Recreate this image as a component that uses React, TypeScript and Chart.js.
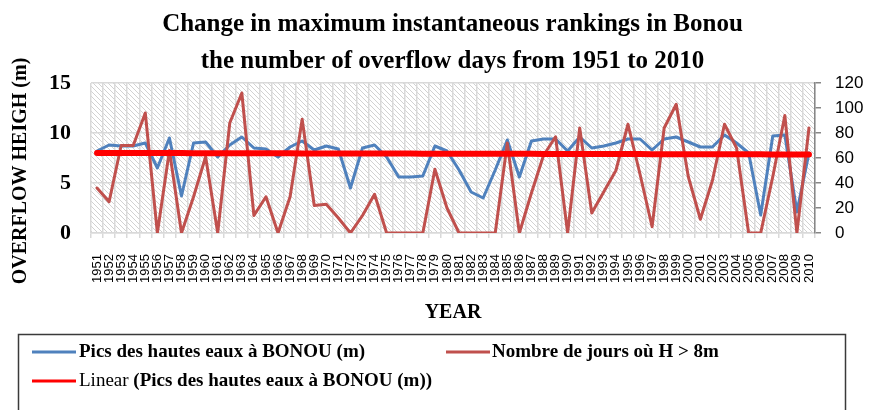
import React, { useEffect, useRef } from "react";
import { Chart, registerables } from "chart.js";

Chart.register(...registerables);

const years = [
  "1951", "1952", "1953", "1954", "1955", "1956", "1957", "1958", "1959", "1960",
  "1961", "1962", "1963", "1964", "1965", "1966", "1967", "1968", "1969", "1970",
  "1971", "1972", "1973", "1974", "1975", "1976", "1977", "1978", "1979", "1980",
  "1981", "1982", "1983", "1984", "1985", "1986", "1987", "1988", "1989", "1990",
  "1991", "1992", "1993", "1994", "1995", "1996", "1997", "1998", "1999", "2000",
  "2001", "2002", "2003", "2004", "2005", "2006", "2007", "2008", "2009", "2010",
];

const peakHeights = [
  8.2, 8.8, 8.7, 8.7, 9.0, 6.5, 9.5, 3.7, 9.0, 9.1,
  7.6, 8.8, 9.6, 8.5, 8.4, 7.6, 8.6, 9.2, 8.3, 8.7,
  8.4, 4.5, 8.5, 8.8, 7.6, 5.6, 5.6, 5.7, 8.7, 8.2,
  6.3, 4.1, 3.5, 6.3, 9.3, 5.6, 9.2, 9.4, 9.4, 8.2,
  9.6, 8.5, 8.7, 9.0, 9.4, 9.4, 8.3, 9.4, 9.6, 9.1,
  8.6, 8.6, 9.8, 9.0, 8.0, 1.8, 9.7, 9.8, 2.1, 8.0,
];

const overflowDays = [
  36, 25, 70, 70, 96, 0, 66, 0, 29, 61,
  0, 88, 112, 14, 29, 0, 29, 91, 22, 23,
  12, 0, 14, 31, 0, 0, 0, 0, 51, 20,
  0, 0, 0, 0, 72, 0, 32, 62, 77, 0,
  84, 16, 33, 50, 87, 47, 5, 84, 103, 45,
  11, 42, 87, 68, 0, 0, 45, 94, 0, 84,
];

const heightTicks = [0, 5, 10, 15];
const dayTicks = [0, 20, 40, 60, 80, 100, 120];

const titleLines = [
  "Change in maximum instantaneous rankings in Bonou",
  "the number of overflow days from 1951 to 2010",
];
const yTitle = "OVERFLOW HEIGH (m)";
const xTitle = "YEAR";
const heightLabel = "Pics des hautes eaux à BONOU (m)";
const daysLabel = "Nombre de jours où H > 8m";
const trendPrefix = "Linear ";

const BLUE = "#4F81BD";
const DARKRED = "#C0504D";
const TREND = "#FF0000";
const GRID = "#D9D9D9";
const SERIF = '"Liberation Serif", "Times New Roman", serif';
const SANS = '"Liberation Sans", Arial, sans-serif';

function linearTrend(values: number[]): number[] {
  const n = values.length;
  let sx = 0, sy = 0, sxy = 0, sxx = 0;
  values.forEach((v, i) => {
    sx += i; sy += v; sxy += i * v; sxx += i * i;
  });
  const slope = (n * sxy - sx * sy) / (n * sxx - sx * sx);
  const intercept = (sy - slope * sx) / n;
  return values.map((_, i) => intercept + slope * i);
}

function makeHatch(ctx: CanvasRenderingContext2D) {
  const c = document.createElement("canvas");
  c.width = 5;
  c.height = 5;
  const p = c.getContext("2d")!;
  p.fillStyle = "#ffffff";
  p.fillRect(0, 0, 5, 5);
  p.strokeStyle = "#D2D2D2";
  p.lineWidth = 1;
  p.beginPath();
  p.moveTo(-1, -1); p.lineTo(6, 6);
  p.moveTo(-1, 4); p.lineTo(1, 6);
  p.moveTo(4, -1); p.lineTo(6, 1);
  p.stroke();
  return ctx.createPattern(c, "repeat");
}

const decorPlugin = {
  id: "decor",
  beforeDraw(chart: any) {
    const { ctx, chartArea: a } = chart;
    ctx.save();
    ctx.fillStyle = "#ffffff";
    ctx.fillRect(0, 0, chart.width, chart.height);
    const pat = makeHatch(ctx);
    if (pat) {
      ctx.fillStyle = pat;
      ctx.fillRect(a.left, a.top, a.right - a.left, a.bottom - a.top);
    }
    ctx.restore();
  },
  afterDraw(chart: any) {
    const { ctx, chartArea: a } = chart;
    const cx = (a.left + a.right) / 2;
    ctx.save();
    ctx.fillStyle = "#000";
    ctx.textAlign = "center";
    ctx.textBaseline = "alphabetic";
    ctx.font = `bold 25px ${SERIF}`;
    ctx.fillText(titleLines[0], 452.5, 31);
    ctx.fillText(titleLines[1], 452.5, 68);

    ctx.font = `bold 20px ${SERIF}`;
    ctx.textBaseline = "middle";
    ctx.fillText(xTitle, cx, 313);

    ctx.save();
    ctx.translate(21, 171);
    ctx.rotate(-Math.PI / 2);
    ctx.fillText(yTitle, 0, 0);
    ctx.restore();

    // legend box
    ctx.strokeStyle = "#3A3A3A";
    ctx.lineWidth = 1.5;
    ctx.strokeRect(18.5, 334.5, 827, 90);

    const ds = chart.data.datasets;
    const drawSample = (x: number, y: number, color: string) => {
      ctx.strokeStyle = color;
      ctx.lineWidth = 3;
      ctx.lineCap = "butt";
      ctx.beginPath();
      ctx.moveTo(x, y);
      ctx.lineTo(x + 44, y);
      ctx.stroke();
    };
    ctx.textAlign = "left";
    ctx.textBaseline = "middle";
    ctx.fillStyle = "#000";

    drawSample(32, 352, ds[2].borderColor);
    ctx.font = `bold 19px ${SERIF}`;
    ctx.fillText(ds[2].label, 79, 352);

    drawSample(446, 352, ds[1].borderColor);
    ctx.font = `bold 19px ${SERIF}`;
    ctx.fillText(ds[1].label, 492, 352);

    drawSample(32, 381, ds[0].borderColor);
    ctx.font = `19px ${SERIF}`;
    ctx.fillText(trendPrefix, 79, 381);
    const w = ctx.measureText(trendPrefix).width;
    ctx.font = `bold 19px ${SERIF}`;
    ctx.fillText(`(${ds[2].label})`, 79 + w, 381);
    ctx.restore();
  },
};

export default function App() {
  const canvasRef = useRef<HTMLCanvasElement | null>(null);

  useEffect(() => {
    const canvas = canvasRef.current;
    if (!canvas) return;
    const trend = linearTrend(peakHeights);
    const chart = new Chart(canvas, {
      type: "line",
      data: {
        labels: years,
        datasets: [
          {
            label: "Linear",
            data: trend,
            borderColor: TREND,
            backgroundColor: TREND,
            borderWidth: 6,
            borderCapStyle: "round",
            pointRadius: 0,
            yAxisID: "y",
            order: 0,
          },
          {
            label: daysLabel,
            data: overflowDays,
            borderColor: DARKRED,
            backgroundColor: DARKRED,
            borderWidth: 3,
            borderJoinStyle: "round",
            borderCapStyle: "round",
            pointRadius: 0,
            yAxisID: "y1",
            order: 1,
          },
          {
            label: heightLabel,
            data: peakHeights,
            borderColor: BLUE,
            backgroundColor: BLUE,
            borderWidth: 3,
            borderJoinStyle: "round",
            borderCapStyle: "round",
            pointRadius: 0,
            yAxisID: "y",
            order: 2,
          },
        ],
      },
      options: {
        animation: false,
        responsive: false,
        devicePixelRatio: 1,
        layout: { padding: { top: 83, left: 0, right: 0, bottom: 0 } },
        plugins: {
          legend: { display: false },
          title: { display: false },
          tooltip: { enabled: false },
        },
        scales: {
          x: {
            type: "category",
            offset: true,
            grid: {
              offset: true,
              color: GRID,
              lineWidth: 1.5,
              drawTicks: true,
              tickLength: 5,
              tickColor: GRID,
            },
            border: { display: true, color: GRID, width: 1.5 },
            ticks: {
              autoSkip: false,
              maxRotation: 90,
              minRotation: 90,
              padding: 16,
              color: "#000",
              font: { family: SANS, size: 13 },
            },
            afterFit: (s: any) => { s.height = 177; },
          },
          y: {
            type: "linear",
            position: "left",
            min: 0,
            max: 15,
            afterBuildTicks: (s: any) => { s.ticks = heightTicks.map((v) => ({ value: v })); },
            ticks: {
              padding: 20,
              color: "#000",
              font: { family: SERIF, size: 22, weight: "bold" },
            },
            grid: { color: GRID, lineWidth: 1.5, drawTicks: false },
            border: { display: false },
            afterFit: (s: any) => { s.width = 91; },
          },
          y1: {
            type: "linear",
            position: "right",
            min: 0,
            max: 120,
            afterBuildTicks: (s: any) => { s.ticks = dayTicks.map((v) => ({ value: v })); },
            ticks: {
              padding: 14,
              color: "#000",
              font: { family: SANS, size: 17 },
            },
            grid: {
              drawOnChartArea: false,
              drawTicks: true,
              tickLength: 6,
              tickColor: "#868686",
              color: "#868686",
              lineWidth: 1.5,
            },
            border: { display: true, color: "#868686", width: 1.5 },
            afterFit: (s: any) => { s.width = 61; },
          },
        },
      },
      plugins: [decorPlugin],
    } as any);
    return () => chart.destroy();
  }, []);

  return (
    <div style={{ position: "fixed", left: 0, top: 0, width: 876, height: 410, background: "#fff" }}>
      <canvas ref={canvasRef} width={876} height={410} style={{ width: 876, height: 410, display: "block" }} />
    </div>
  );
}
